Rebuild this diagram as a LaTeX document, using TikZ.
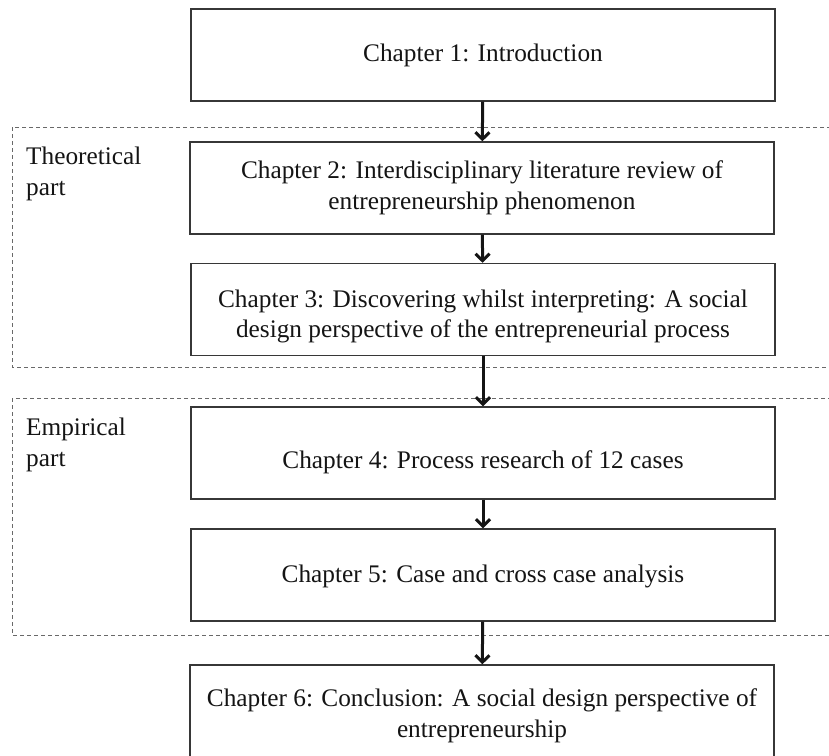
\documentclass[tikz,border=0pt]{standalone}
\usepackage{fontspec}
\setmainfont{Liberation Serif}
\usetikzlibrary{arrows.meta}
\definecolor{ThesisInk}{RGB}{20,20,20}
\definecolor{ThesisEdge}{RGB}{55,55,55}
\definecolor{ThesisDash}{RGB}{105,105,105}
\newcommand{\dropby}[1]{\rule{0pt}{#1}}
\tikzset{
  thesis/box/.style={
    draw=ThesisEdge,
    line width=1.3pt,
    fill=white,
    align=center,
    text=ThesisInk,
    minimum width=584pt,
    minimum height=92pt,
    inner sep=0pt,
    font=\fontsize{25.3}{30.5}\selectfont
  },
  thesis/frame/.style={draw=ThesisDash, line width=1pt, dash pattern=on 4pt off 3pt},
  thesis/arrow/.style={-{Straight Barb[length=7pt,width=14pt]}, line width=3pt, draw=ThesisInk},
  thesis/partlabel/.style={anchor=north west, inner sep=0pt, align=left, text=ThesisInk, font=\fontsize{25.3}{30.5}\selectfont}
}
\begin{document}
\begin{tikzpicture}[x=1pt,y=-1pt]
  \useasboundingbox (0,0) rectangle (829,755);
  % part frames
  \draw[thesis/frame] (12,127) rectangle (850,367);
  \draw[thesis/frame] (12,398) rectangle (850,635);
  \node[thesis/partlabel] (theory) at (26,147) {Theoretical\\part};
  \node[thesis/partlabel] (empiric) at (26,418) {Empirical\\part};
  % chapters
  \node[thesis/box] (ch1) at (483,55) {Chapter 1: Introduction};
  \node[thesis/box] (ch2) at (482,188) {Chapter 2: Interdisciplinary literature review of\\entrepreneurship phenomenon};
  \node[thesis/box] (ch3) at (483,309.5) {\dropby{31pt}Chapter 3: Discovering whilst interpreting: A social\\design perspective of the entrepreneurial process};
  \node[thesis/box] (ch4) at (483,453) {\dropby{37pt}Chapter 4: Process research of 12 cases};
  \node[thesis/box] (ch5) at (483,575) {\dropby{21pt}Chapter 5: Case and cross case analysis};
  \node[thesis/box] (ch6) at (482,711) {\dropby{27pt}Chapter 6: Conclusion: A social design perspective of\\entrepreneurship};
  \foreach \a/\b in {ch1/ch2,ch2/ch3,ch3/ch4,ch4/ch5,ch5/ch6}{
    \draw[thesis/arrow] (\a) -- (\b);
  }
\end{tikzpicture}
\end{document}
